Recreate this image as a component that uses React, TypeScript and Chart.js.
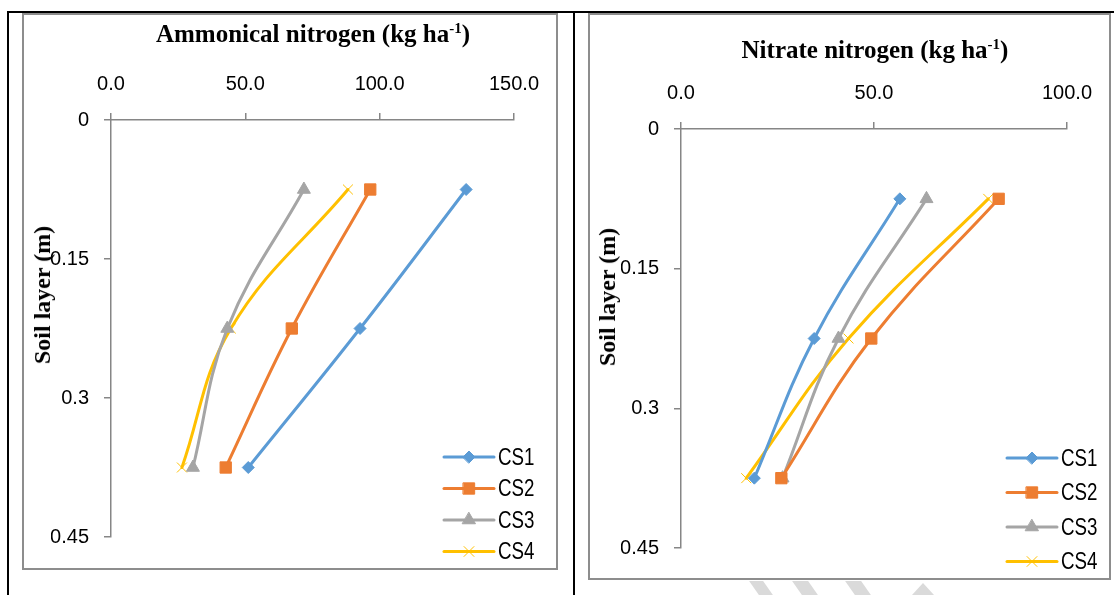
import React, { useEffect, useRef } from 'react';
import { Chart, registerables } from 'chart.js';
import { drawPoint } from 'chart.js/helpers';

Chart.register(...registerables);

// ---- data ----
const seriesNames = ['CS1', 'CS2', 'CS3', 'CS4'];
const depths = [0.075, 0.225, 0.375];
const depthTicks = [0, 0.15, 0.3, 0.45];

const ammonicalTicks = [0, 50, 100, 150];
const ammonicalCS1 = [132.2, 92.7, 51.1];
const ammonicalCS2 = [96.5, 67.3, 42.7];
const ammonicalCS3 = [71.8, 43.3, 30.5];
const ammonicalCS4 = [88.2, 44.6, 26.4];

const nitrateTicks = [0, 50, 100];
const nitrateCS1 = [56.7, 34.5, 19.0];
const nitrateCS2 = [82.3, 49.3, 26.0];
const nitrateCS3 = [63.6, 40.8, 26.3];
const nitrateCS4 = [79.6, 43.4, 16.9];

// ---- styles ----
const colors = ['#5B9BD5', '#ED7D31', '#A5A5A5', '#FFC000'];
const pointStyles = ['rectRot', 'rect', 'triangle', 'crossRot'];
const pointRadii = [6, 8, 7.5, 7];
const axisColor = '#868686';

const legendPlugin = {
  id: 'profileLegend',
  afterDraw(chart: any, _args: any, opts: any) {
    const ctx = chart.ctx;
    chart.data.datasets.forEach((ds: any, i: number) => {
      const y = opts.y0 + i * opts.gap;
      const x = opts.x;
      ctx.save();
      ctx.strokeStyle = ds.borderColor;
      ctx.lineWidth = ds.borderWidth;
      ctx.lineCap = 'round';
      ctx.beginPath();
      ctx.moveTo(x, y);
      ctx.lineTo(x + opts.len, y);
      ctx.stroke();
      ctx.fillStyle = ds.pointBackgroundColor;
      ctx.strokeStyle = ds.pointBorderColor;
      ctx.lineWidth = ds.pointBorderWidth;
      drawPoint(ctx, { pointStyle: ds.pointStyle, radius: ds.pointRadius, rotation: 0, borderWidth: ds.pointBorderWidth } as any, x + opts.len / 2, y);
      ctx.fillStyle = '#000';
      ctx.font = opts.font;
      ctx.textBaseline = 'middle';
      ctx.textAlign = 'left';
      ctx.translate(x + opts.len + opts.textGap, y + 1);
      ctx.scale(opts.squeeze, 1);
      ctx.fillText(ds.label, 0, 0);
      ctx.restore();
    });
  },
};

type Box = { x: number; y: number; w: number; h: number };
type Area = { l: number; t: number; r: number; b: number };

function ProfileChart(props: {
  box: Box;
  area: Area;
  xTicks: number[];
  series: number[][];
  legend: { x: number; y0: number; gap: number };
}) {
  const ref = useRef<HTMLCanvasElement | null>(null);
  useEffect(() => {
    if (!ref.current) return;
    const { box, area, xTicks, series, legend } = props;
    const YW = 60;
    const XH = 60;
    const chart = new Chart(ref.current, {
      type: 'line',
      data: {
        datasets: series.map((vals, i) => ({
          label: seriesNames[i],
          data: vals.map((v, k) => ({ x: v, y: depths[k] })),
          borderColor: colors[i],
          backgroundColor: colors[i],
          borderWidth: 3,
          borderCapStyle: 'round',
          borderJoinStyle: 'round',
          tension: 0.4,
          pointStyle: pointStyles[i],
          pointRadius: pointRadii[i],
          pointBackgroundColor: colors[i],
          pointBorderColor: colors[i],
          pointBorderWidth: 1,
          fill: false,
          clip: false,
        })) as any,
      },
      options: {
        animation: false,
        responsive: true,
        maintainAspectRatio: false,
        devicePixelRatio: 1,
        layout: {
          padding: {
            left: area.l - box.x - YW,
            top: area.t - box.y - XH,
            right: box.x + box.w - area.r,
            bottom: box.y + box.h - area.b,
          },
        },
        scales: {
          x: {
            type: 'linear',
            position: 'top',
            min: xTicks[0],
            max: xTicks[xTicks.length - 1],
            afterBuildTicks: (s: any) => {
              s.ticks = xTicks.map((v) => ({ value: v }));
            },
            afterFit: (s: any) => {
              s.height = XH;
            },
            ticks: {
              callback: (v: any) => Number(v).toFixed(1),
              font: { family: '"Liberation Sans", Arial, sans-serif', size: 20 },
              color: '#000',
              padding: 17,
              maxRotation: 0,
            },
            grid: { display: true, drawOnChartArea: false, drawTicks: true, tickLength: 7, color: axisColor, lineWidth: 1.5 },
            border: { display: true, color: axisColor, width: 1.5 },
          },
          y: {
            type: 'linear',
            reverse: true,
            min: depthTicks[0],
            max: depthTicks[depthTicks.length - 1],
            afterBuildTicks: (s: any) => {
              s.ticks = depthTicks.map((v) => ({ value: v }));
            },
            afterFit: (s: any) => {
              s.width = YW;
            },
            ticks: {
              callback: (v: any) => String(v),
              font: { family: '"Liberation Sans", Arial, sans-serif', size: 20 },
              color: '#000',
              padding: 15,
            },
            grid: { display: true, drawOnChartArea: false, drawTicks: true, tickLength: 7, color: axisColor, lineWidth: 1.5 },
            border: { display: true, color: axisColor, width: 1.5 },
          },
        },
        plugins: {
          legend: { display: false },
          tooltip: { enabled: false },
          title: { display: false },
          profileLegend: {
            x: legend.x - box.x,
            y0: legend.y0 - box.y,
            gap: legend.gap,
            len: 50,
            textGap: 4,
            squeeze: 0.78,
            font: '24px "Liberation Sans", Arial, sans-serif',
          },
        } as any,
      },
      plugins: [legendPlugin],
    });
    return () => chart.destroy();
  }, []);
  const { box } = props;
  return (
    <div style={{ position: 'absolute', left: box.x, top: box.y, width: box.w, height: box.h }}>
      <canvas ref={ref} />
    </div>
  );
}

const abs = (l: number, t: number, w: number, h: number, extra: any = {}) => ({
  position: 'absolute' as const,
  left: l,
  top: t,
  width: w,
  height: h,
  ...extra,
});

function Title(props: { cx: number; top: number; text: string }) {
  return (
    <div
      style={{
        position: 'absolute',
        left: props.cx,
        top: props.top,
        transform: 'translateX(-50%)',
        whiteSpace: 'nowrap',
        fontFamily: '"Liberation Serif", "Times New Roman", serif',
        fontWeight: 'bold',
        fontSize: 25,
        lineHeight: '25px',
        color: '#000',
      }}
    >
      {props.text}
      <sup style={{ fontSize: 15, lineHeight: 0, verticalAlign: 'super' }}>-1</sup>)
    </div>
  );
}

function YTitle(props: { cx: number; cy: number }) {
  return (
    <div
      style={{
        position: 'absolute',
        left: props.cx,
        top: props.cy,
        transform: 'translate(-50%, -50%) rotate(-90deg)',
        whiteSpace: 'nowrap',
        fontFamily: '"Liberation Serif", "Times New Roman", serif',
        fontWeight: 'bold',
        fontSize: 24,
        lineHeight: '24px',
        color: '#000',
      }}
    >
      Soil layer (m)
    </div>
  );
}

export default function App() {
  const frame = '2px solid #8d8d8d';
  return (
    <div style={{ position: 'absolute', left: 0, top: 0, width: 1114, height: 595, background: '#fff', overflow: 'hidden' }}>
      {/* table lines */}
      <div style={abs(7, 11, 1107, 2, { background: '#000' })} />
      <div style={abs(7, 11, 2, 584, { background: '#000' })} />
      <div style={abs(573, 11, 2, 584, { background: '#000' })} />
      {/* chart frames */}
      <div style={abs(22, 13, 536, 557, { border: frame, boxSizing: 'border-box', background: '#fff' })} />
      <div style={abs(588, 13, 523, 567, { border: frame, boxSizing: 'border-box', background: '#fff' })} />
      {/* watermark fragments */}
      <div style={abs(754, 581, 14, 14, { background: '#dadada', transform: 'skewX(35deg)' })} />
      <div style={abs(797, 581, 16, 14, { background: '#dadada', transform: 'skewX(35deg)' })} />
      <div style={abs(850, 581, 16, 14, { background: '#dadada', transform: 'skewX(35deg)' })} />
      <div style={abs(912, 583, 22, 12, { background: '#dadada', clipPath: 'polygon(50% 0, 100% 100%, 0 100%)' })} />

      <ProfileChart
        box={{ x: 24, y: 15, w: 532, h: 553 }}
        area={{ l: 111, t: 120, r: 515, b: 537 }}
        xTicks={ammonicalTicks}
        series={[ammonicalCS1, ammonicalCS2, ammonicalCS3, ammonicalCS4]}
        legend={{ x: 444, y0: 457, gap: 31.5 }}
      />
      <ProfileChart
        box={{ x: 590, y: 15, w: 519, h: 563 }}
        area={{ l: 681, t: 129, r: 1071, b: 548 }}
        xTicks={nitrateTicks}
        series={[nitrateCS1, nitrateCS2, nitrateCS3, nitrateCS4]}
        legend={{ x: 1007, y0: 458, gap: 34.5 }}
      />

      <Title cx={313} top={21} text="Ammonical nitrogen (kg ha" />
      <Title cx={875} top={37} text="Nitrate nitrogen (kg ha" />
      <YTitle cx={42} cy={295} />
      <YTitle cx={607} cy={297} />
    </div>
  );
}
